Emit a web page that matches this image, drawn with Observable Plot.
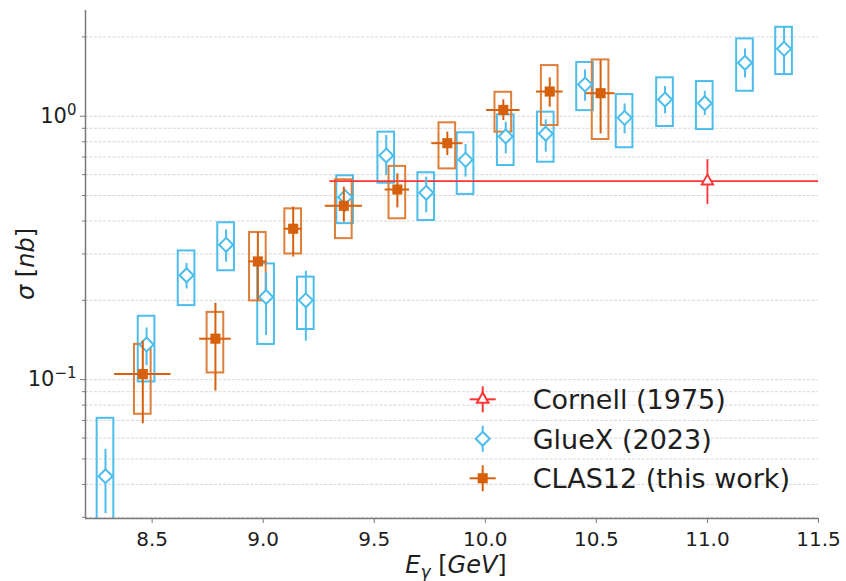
<!DOCTYPE html>
<html><head><meta charset="utf-8">
<script src="https://cdn.jsdelivr.net/npm/d3@7"></script>
<script src="https://cdn.jsdelivr.net/npm/@observablehq/plot@0.6"></script>
<style>
body{margin:0;background:#fff;}
#wrap{position:relative;width:846px;height:581px;font-family:"DejaVu Sans",sans-serif;color:#1e1e1e;}
#overlay{position:absolute;left:0;top:0;pointer-events:none;}
</style>
</head><body>
<div id="wrap"></div>
<script>
// ---- data ----
const gluexE      = [8.290, 8.475, 8.655, 8.833, 9.013, 9.192, 9.369, 9.554, 9.734, 9.911, 10.092, 10.272, 10.449, 10.627, 10.809, 10.988, 11.169, 11.345];
const gluexSigma  = [0.043, 0.136, 0.249, 0.325, 0.206, 0.200, 0.493, 0.709, 0.512, 0.683, 0.838, 0.858, 1.319, 0.986, 1.157, 1.120, 1.595, 1.802];
const gluexStatLo = [0.031, 0.113, 0.221, 0.279, 0.147, 0.140, 0.432, 0.595, 0.430, 0.587, 0.720, 0.730, 1.140, 0.857, 1.021, 1.006, 1.398, 1.440];
const gluexStatHi = [0.0544,0.157, 0.276, 0.370, 0.255, 0.258, 0.523, 0.845, 0.587, 0.781, 0.949, 0.969, 1.500, 1.114, 1.296, 1.244, 1.801, 2.170];
const gluexSysLo  = [0.015, 0.098, 0.191, 0.259, 0.136, 0.155, 0.391, 0.557, 0.402, 0.505, 0.650, 0.669, 1.050, 0.759, 0.914, 0.890, 1.244, 1.439];
const gluexSysHi  = [0.0713,0.174, 0.308, 0.394, 0.275, 0.245, 0.594, 0.870, 0.610, 0.865, 1.012, 1.036, 1.600, 1.208, 1.399, 1.354, 1.966, 2.176];

const clasE      = [8.458, 8.785, 8.976, 9.135, 9.363, 9.604, 9.829, 10.081, 10.290, 10.519];
const clasEErr   = [0.127, 0.071, 0.041, 0.040, 0.084, 0.055, 0.070, 0.075, 0.060, 0.065];
const clasSigma  = [0.105, 0.143, 0.281, 0.374, 0.457, 0.527, 0.790, 1.057, 1.241, 1.223];
const clasStatLo = [0.068, 0.0905,0.199, 0.292, 0.396, 0.449, 0.709, 0.963, 1.082, 0.857];
const clasStatHi = [0.140, 0.195, 0.362, 0.452, 0.538, 0.604, 0.870, 1.154, 1.399, 1.627];
const clasSysLo  = [0.0739,0.106, 0.199, 0.300, 0.343, 0.408, 0.631, 0.870, 0.922, 0.816];
const clasSysHi  = [0.136, 0.180, 0.362, 0.445, 0.574, 0.645, 0.944, 1.233, 1.557, 1.636];

const cornellE = [11.0];
const cornellEErr = [1.7];
const cornellSigma = [0.567];
const cornellStatLo = [0.462];
const cornellStatHi = [0.684];

const xTicks = [8.5, 9.0, 9.5, 10.0, 10.5, 11.0, 11.5];
const yMajorTicks = [0.1, 1];
const yMajorExponents = ["\u22121", "0"];
const yMinorTicks = [0.03,0.04,0.05,0.06,0.07,0.08,0.09,0.2,0.3,0.4,0.5,0.6,0.7,0.8,0.9,2];
const legendLabels = ["Cornell (1975)", "GlueX (2023)", "CLAS12 (this work)"];

// ---- styling ----
const BLUE = "#4cbdec", ORANGE = "#d7600c", ORANGE_BOX = "#de7f3a", RED = "#ff3434";
const boxHalf = 0.0375;
const xDomain = [8.2, 11.5], yDomain = [0.0297, 2.52];

const gluex = gluexE.map((E,i)=>({E, s:gluexSigma[i], sl:gluexStatLo[i], sh:gluexStatHi[i], yl:gluexSysLo[i], yh:gluexSysHi[i]}));
const clas = clasE.map((E,i)=>({E, ex:clasEErr[i], s:clasSigma[i], sl:clasStatLo[i], sh:clasStatHi[i], yl:clasSysLo[i], yh:clasSysHi[i]}));
const cornell = cornellE.map((E,i)=>({E, ex:cornellEErr[i], s:cornellSigma[i], sl:cornellStatLo[i], sh:cornellStatHi[i]}));

const chart = Plot.plot({
  width: 846, height: 581,
  marginLeft: 85, marginRight: 28, marginTop: 10, marginBottom: 63,
  x: {domain: xDomain},
  y: {type: "log", domain: yDomain},
  style: {fontFamily: "DejaVu Sans, sans-serif", fontSize: "20px", color: "#1e1e1e", background: "white"},
  marks: [
    Plot.ruleY(yMajorTicks.concat(yMinorTicks), {stroke: "#d2d2d2", strokeWidth: 0.9, strokeDasharray: "3,1.6"}),
    Plot.rect(gluex, {x1: d=>d.E-boxHalf, x2: d=>d.E+boxHalf, y1: "yl", y2: "yh", fill: "none", stroke: BLUE, strokeWidth: 2, clip: true}),
    Plot.rect(clas, {x1: d=>d.E-boxHalf, x2: d=>d.E+boxHalf, y1: "yl", y2: "yh", fill: "none", stroke: ORANGE_BOX, strokeWidth: 2, clip: true}),
    Plot.ruleY(cornell, {y: "s", x1: d=>d.E-d.ex, x2: d=>d.E+d.ex, stroke: RED, strokeWidth: 1.8, clip: true}),
    Plot.ruleX(cornell, {x: "E", y1: "sl", y2: "sh", stroke: RED, strokeWidth: 1.8}),
    Plot.dot(cornell, {x: "E", y: "s", symbol: "triangle", r: 4.3, fill: "white", stroke: RED, strokeWidth: 1.8}),
    Plot.ruleX(gluex, {x: "E", y1: "sl", y2: "sh", stroke: BLUE, strokeWidth: 2, clip: true}),
    Plot.dot(gluex, {x: "E", y: "s", symbol: "diamond2", r: 6.3, fill: "white", stroke: BLUE, strokeWidth: 2}),
    Plot.ruleX(clas, {x: "E", y1: "sl", y2: "sh", stroke: ORANGE, strokeWidth: 2}),
    Plot.ruleY(clas, {y: "s", x1: d=>d.E-d.ex, x2: d=>d.E+d.ex, stroke: ORANGE, strokeWidth: 2}),
    Plot.dot(clas, {x: "E", y: "s", symbol: "square", r: 5.7, fill: ORANGE, stroke: "none"}),
    Plot.ruleX([xDomain[0]], {stroke: "#7a7a7a", strokeWidth: 1.5}),
    Plot.ruleY([yDomain[0]], {stroke: "#7a7a7a", strokeWidth: 1.5}),
    Plot.axisX({ticks: xTicks, tickFormat: d3.format(".1f"), tickSize: 5, tickPadding: 8, stroke: "#7a7a7a", fill: "#1e1e1e", label: null, fontSize: 20}),
    Plot.axisY({ticks: yMajorTicks, tickFormat: d => "10^" + yMajorExponents[yMajorTicks.indexOf(d)], tickSize: 5, tickPadding: 4, stroke: "#7a7a7a", fill: "#1e1e1e", label: null, fontSize: 21}),
    Plot.axisY({ticks: yMinorTicks, tickFormat: () => "", tickSize: 3, stroke: "#7a7a7a", label: null})
  ]
});
const wrap = document.getElementById("wrap");
wrap.appendChild(chart);

// render "10^e" tick labels with a real superscript
d3.select(chart).selectAll("text").each(function() {
  const t = this.textContent;
  if (t.startsWith("10^")) {
    const sel = d3.select(this);
    sel.text("10");
    sel.append("tspan").attr("dy", -8).attr("font-size", 15).text(t.slice(3));
  }
});

// ---- overlay: axis labels and legend ----
const ov = d3.select(wrap).append("svg").attr("id","overlay").attr("width",846).attr("height",581)
  .style("font-family","DejaVu Sans, sans-serif").style("fill","#1e1e1e");

const xl = ov.append("text").attr("x", 456).attr("y", 573).attr("text-anchor","middle").attr("font-size", 24);
xl.append("tspan").attr("font-style","italic").text("E");
xl.append("tspan").attr("font-style","italic").attr("font-size",17).attr("dy",5).text("\u03B3");
xl.append("tspan").attr("dy",-5).text(" [");
xl.append("tspan").attr("font-style","italic").text("GeV");
xl.append("tspan").text("]");

const yl = ov.append("text").attr("transform","translate(34,264) rotate(-90)").attr("text-anchor","middle").attr("font-size", 24);
yl.append("tspan").attr("font-style","italic").text("\u03C3");
yl.append("tspan").text(" [");
yl.append("tspan").attr("font-style","italic").text("nb");
yl.append("tspan").text("]");

const legColors = [RED, BLUE, ORANGE];
const legSymbols = [d3.symbolTriangle, d3.symbolDiamond2, d3.symbolSquare];
const legSizes = [Math.PI*4.3*4.3, Math.PI*6.3*6.3, Math.PI*5.7*5.7];
const legHoriz = [true, false, true];
legendLabels.forEach((lab, i) => {
  const cy = 399.3 + i*39.5, cx = 482.7;
  const g = ov.append("g");
  if (legHoriz[i]) g.append("line").attr("x1",cx-13).attr("x2",cx+13).attr("y1",cy).attr("y2",cy).attr("stroke",legColors[i]).attr("stroke-width",2);
  g.append("line").attr("x1",cx).attr("x2",cx).attr("y1",cy-13).attr("y2",cy+13).attr("stroke",legColors[i]).attr("stroke-width",2);
  g.append("path").attr("d", d3.symbol(legSymbols[i], legSizes[i])())
    .attr("transform",`translate(${cx},${cy})`)
    .attr("fill", i===2 ? ORANGE : "white").attr("stroke", i===2 ? "none" : legColors[i]).attr("stroke-width",2);
  ov.append("text").attr("x",532.7).attr("y",cy).attr("dy","0.36em").attr("font-size",27).text(lab);
});
</script>
</body></html>
